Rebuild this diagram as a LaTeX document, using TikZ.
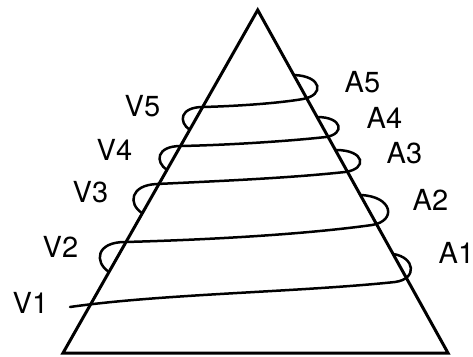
\documentclass[tikz,border=0pt]{standalone}
\usepackage{fontspec}
\setmainfont{TeX Gyre Heros}
\begin{document}
\begin{tikzpicture}[x=1pt,y=-1pt,
  cone/.style={line width=3pt, line join=miter},
  spiral/.style={line width=2.5pt, line cap=round},
  lbl/.style={inner sep=0pt, anchor=base west, font=\fontsize{29}{32}\selectfont}]
\useasboundingbox (0,0) rectangle (473,356);
% cone
\coordinate (apex) at (257.7,10);
\coordinate (bl) at (63,353);
\coordinate (br) at (448,353);
\draw[cone] (apex) -- (bl) -- (br) -- cycle;
% spiral level 1
\draw[spiral] (70,307) .. controls (160,294) and (300,292) .. (395,282)
  .. controls (418,279) and (415,257) .. (393,254);
% level 2
\draw[spiral] (109,272) .. controls (94,262) and (96,242) .. (125,242)
  .. controls (200,240) and (300,235) .. (372,225)
  .. controls (397,221) and (393,196) .. (360,195);
% level 3
\draw[spiral] (142,213) .. controls (128,204) and (130,185) .. (157,184)
  .. controls (220,181) and (290,178) .. (345,172)
  .. controls (368,169) and (365,150) .. (336,150);
% level 4
\draw[spiral] (167,170) .. controls (155,162) and (156,146) .. (181,146)
  .. controls (230,145) and (290,141) .. (326,137)
  .. controls (345,134) and (343,117) .. (317,117);
% level 5
\draw[spiral] (190,130) .. controls (178,122) and (180,107) .. (203,107)
  .. controls (240,106) and (280,103) .. (303,99)
  .. controls (325,95) and (322,76) .. (294,75);
% labels
\node[lbl] (v1) at (12.5,313) {V1};
\node[lbl] (v2) at (42.5,257) {V2};
\node[lbl] (v3) at (72.5,202) {V3};
\node[lbl] (v4) at (96.5,160) {V4};
\node[lbl] (v5) at (124.5,116) {V5};
\node[lbl] (a5) at (344.5,92) {A5};
\node[lbl] (a4) at (366.5,128) {A4};
\node[lbl] (a3) at (386.5,163) {A3};
\node[lbl] (a2) at (412.5,210) {A2};
\node[lbl] (a1) at (438.5,263) {A1};
\end{tikzpicture}
\end{document}
